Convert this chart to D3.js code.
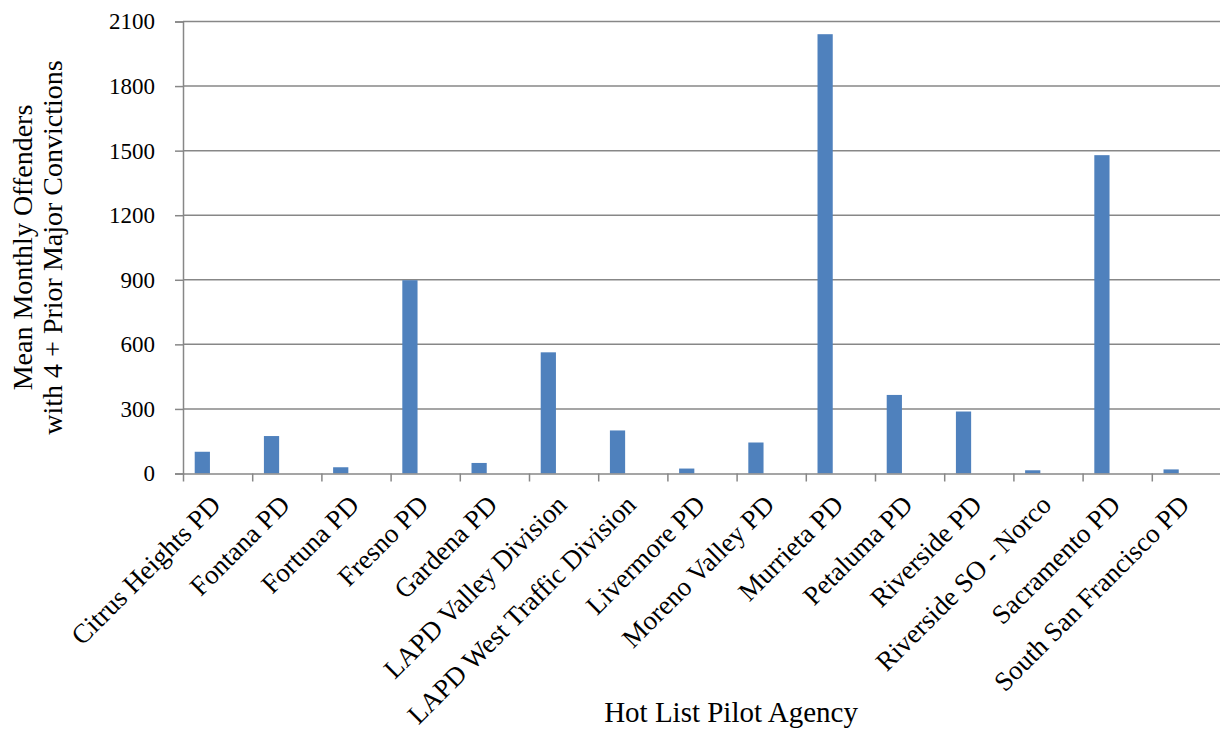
<!DOCTYPE html>
<html>
<head>
<meta charset="utf-8">
<script src="https://cdn.jsdelivr.net/npm/d3@7"></script>
<style>
  html, body { margin: 0; padding: 0; background: #fff; }
  svg text { font-family: "Liberation Serif", "Times New Roman", serif; fill: #000; }
</style>
</head>
<body>
<svg id="chart" width="1220" height="731"></svg>
<script>
const categories = ["Citrus Heights PD", "Fontana PD", "Fortuna PD", "Fresno PD", "Gardena PD",
  "LAPD Valley Division", "LAPD West Traffic Division", "Livermore PD", "Moreno Valley PD",
  "Murrieta PD", "Petaluma PD", "Riverside PD", "Riverside SO - Norco", "Sacramento PD",
  "South San Francisco PD"];
const values = [101, 174, 29, 898, 49, 563, 200, 23, 144, 2041, 365, 288, 15, 1479, 19];
const yTicks = [0, 300, 600, 900, 1200, 1500, 1800, 2100];
const xTitle = "Hot List Pilot Agency";
const yTitleLines = ["Mean Monthly Offenders", "with 4 + Prior Major Convictions"];

const svg = d3.select("#chart");
const plotLeft = 183, plotRight = 1221, plotTop = 21.5, plotBottom = 473.5;
const grey = "#878787";

// category slots (for axis ticks) and bar positions (bar sits left of slot centre)
const xSlot = d3.scaleBand().domain(categories).range([plotLeft, plotRight]).padding(0);
const x = d3.scaleBand().domain(categories).range([plotLeft, plotRight])
  .paddingInner(0.78).paddingOuter(0.39).align(0.217);
const y = d3.scaleLinear().domain([0, 2100]).range([plotBottom, plotTop]);

// gridlines
svg.append("g").selectAll("line").data(yTicks.filter(d => d > 0)).join("line")
  .attr("x1", plotLeft).attr("x2", plotRight)
  .attr("y1", d => y(d)).attr("y2", d => y(d))
  .attr("stroke", grey).attr("stroke-width", 1.5);

// bars
svg.append("g").selectAll("rect").data(values).join("rect")
  .attr("x", (d, i) => x(categories[i]))
  .attr("width", x.bandwidth())
  .attr("y", d => y(d))
  .attr("height", d => y(0) - y(d))
  .attr("fill", "#4F81BD");

// y axis
const yAxis = svg.append("g").attr("transform", `translate(${plotLeft},0)`)
  .call(d3.axisLeft(y).tickValues(yTicks).tickSize(8).tickPadding(20).tickFormat(d3.format("d")));
yAxis.attr("font-family", null).attr("font-size", null);
yAxis.selectAll("path, line").attr("stroke", grey).attr("stroke-width", 1.5);
yAxis.selectAll("text").style("font-size", "23px");

// x axis with ticks at category boundaries
const xAxis = svg.append("g").attr("transform", `translate(0,${plotBottom})`)
  .call(d3.axisBottom(d3.scaleLinear().domain([0, categories.length]).range([plotLeft, plotRight]))
    .tickValues(d3.range(categories.length + 1)).tickSize(8).tickSizeOuter(0).tickFormat(""));
xAxis.selectAll("path, line").attr("stroke", grey).attr("stroke-width", 1.5);

// category labels
svg.append("g").selectAll("text").data(categories).join("text")
  .attr("transform", d => `translate(${x(d) + x.bandwidth() / 2 + 20},${plotBottom + 33}) rotate(-45)`)
  .attr("text-anchor", "end")
  .style("font-size", "27px")
  .text(d => d);

// x title
svg.append("text").attr("x", 731).attr("y", 722).attr("text-anchor", "middle")
  .style("font-size", "29px").text(xTitle);

// y title
const yt = svg.append("text").attr("transform", `translate(0,${(plotTop + plotBottom) / 2}) rotate(-90)`)
  .attr("text-anchor", "middle").style("font-size", "28px");
yt.selectAll("tspan").data(yTitleLines).join("tspan")
  .attr("x", 0).attr("y", (d, i) => 32 + i * 30).text(d => d);
</script>
</body>
</html>
